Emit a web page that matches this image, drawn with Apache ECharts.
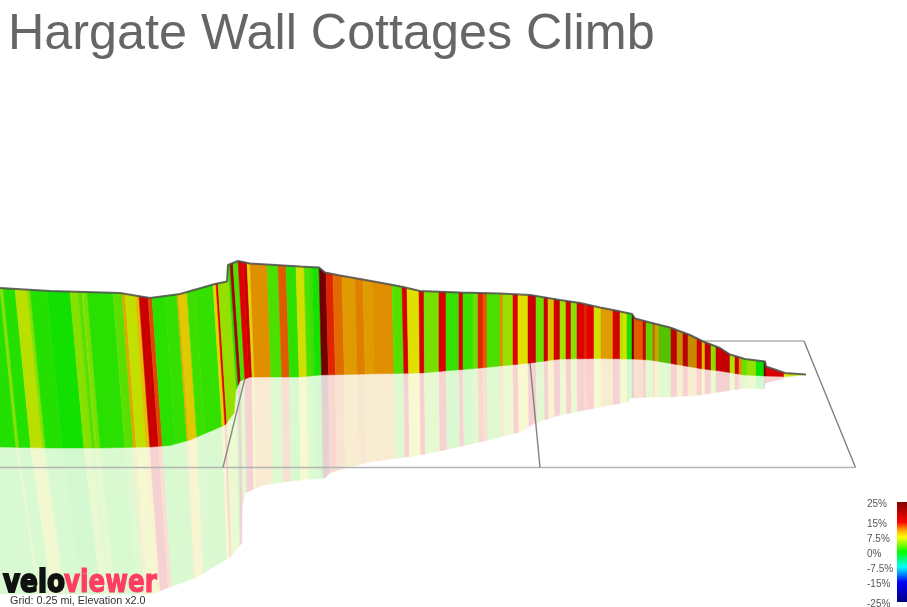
<!DOCTYPE html>
<html>
<head>
<meta charset="utf-8">
<title>Hargate Wall Cottages Climb</title>
<style>
html, body { margin: 0; padding: 0; background: #fff; }
#chart { width: 907px; height: 607px; }
</style>
<script src="https://cdn.jsdelivr.net/npm/echarts@6/dist/echarts.min.js"></script>
</head>
<body>
<div id="chart"></div>
<script>
const chartTitle = 'Hargate Wall Cottages Climb';
const gridNote = 'Grid: 0.25 mi, Elevation x2.0';

// Gradient bands along the ridge: band i runs from bandEdges[i] to bandEdges[i + 1].
const bandEdges = [
  -45, 0, 3, 15, 27, 30, 47, 70, 78, 82, 83, 87, 113, 122, 125, 135, 139, 148, 152, 165, 177,
  179, 187, 195, 213, 216, 218, 228, 230, 233, 238, 243, 247, 250, 267, 278, 286, 296, 304, 308, 312,
  319, 326, 333, 342, 355, 363, 372, 392, 402, 407, 419, 424, 439, 446, 459, 463, 473, 478, 483, 487,
  500, 503, 513, 518, 528, 536, 544, 548, 554, 560, 566, 571, 577, 584, 587, 594, 601, 613, 620, 623,
  627, 632, 634, 643, 646, 653, 655, 659, 671, 677, 683, 688, 697, 702, 705, 711, 716, 726, 730, 735,
  739, 742, 747, 756, 764, 766, 784, 789, 806
];
const bandGrades = [
  1.2, 4.5, 1.2, 6.2, 4.5, 1.2, 0.6, 4.5, 3, 4.5, 4, 1.4, 3, 10, 6.5, 9, 17, 13, 1.4, 1.7, 9.5,
  8.5, 2, 1.7, 8, 15, 5, 1, 20, 2.5, 15, 17, 8, 11, 2.5, 12.5, 1.5, 7, 2.5, 2, 0.8,
  25, 14, 12, 10.5, 11.5, 10.5, 11, 2.8, 16, 7.5, 16, 4, 15.5, 1.8, 15, 1.8, 3.5, 14, 12.5, 2.5,
  11, 5, 15, 7.5, 17, 3.5, 17, 9, 17, 5.5, 16, 4.5, 15.5, 14, 15, 7, 10.5, 16, 6, 7.2,
  1, 25, 12.5, 16, 3.5, 12, 9, 3.3, 15.5, 10, 16, 10.5, 15, 8.5, 17, 5, 17, 18, 6, 17,
  11, 3.5, 5, 0.3, 25, 15.5, 7.5, 6
];

// Top edge of the elevation wall.
const ridgeX = [0, 50, 120, 150, 180, 215, 227, 228, 238, 250, 300, 319, 325, 340, 360, 390, 403, 420, 460, 500, 530, 560, 580, 600, 613, 632, 635, 650, 670, 690, 703, 720, 730, 745, 765, 766, 785, 806];
const ridgeY = [288, 291, 293, 298, 294, 284, 281.5, 265, 261, 263.5, 266.5, 267.5, 272.5, 275.5, 279, 284.5, 287, 291, 292.5, 293.5, 295, 300, 303, 307.5, 310, 314, 318.5, 322.5, 327.5, 335, 341.5, 348, 354.5, 359, 361.5, 366.5, 373, 374.5];

// Where the wall meets the ground.
const baseX = [0, 50, 100, 150, 170, 190, 225, 234, 236, 240, 250, 300, 320, 390, 420, 480, 520, 530, 560, 600, 632, 650, 680, 700, 720, 745, 765, 785, 806];
const baseY = [447, 448, 448, 447, 445.5, 440, 425, 413, 390, 381, 377, 377, 375, 373.5, 373, 368, 364, 363, 359, 358.5, 359, 360, 365, 368.5, 371, 375, 376, 376.5, 374.5];

// Lower edge of the mirrored wall.
const mirrorX = [0, 152, 170, 197, 230, 241.8, 242, 245, 263, 300, 325, 330, 345, 370, 420, 440, 480, 520, 535, 560, 580, 600, 628, 630, 650, 670, 700, 720, 745, 764, 765, 785, 806];
const mirrorY = [594, 594, 587, 577, 557, 543, 507, 493, 485, 480, 478, 473, 468, 462, 455, 451, 442, 432, 423, 415, 411, 407, 402, 398, 397, 397, 395, 392, 388, 389, 383, 378, 374.5];

// Sideways drift of the bands, in perspective, from ridge to ground and to the mirrored edge.
const driftAt = [-45, 0, 50, 130, 180, 215, 232, 250, 320, 400, 430, 530, 620, 806];
const baseDrift = [17, 16, 15, 11, 10, 9, 8, 4.5, 2.5, 2, 0, 0, 0, 0];
const mirrorDrift = [42, 38, 34, 22, 17, 14, 10, 6, 4, 3, 1, 1, 0, 0];

// Light falling on the side face along the climb.
const shadeAt = [0, 640, 660, 690, 705, 740, 806];
const shadeLevel = [0.88, 0.88, 0.76, 0.76, 0.85, 0.88, 0.88];

// Ground grid lines, as [x, y] ends.
const groundFront = [[0, 467.5], [855.5, 467.5]];
const groundRear = [[690, 341], [804, 341]];
const groundSide = [[804, 341], [855.5, 467.5]];
const gridLineA = [[223, 467.5], [245, 378]];
const gridLineB = [[530, 363], [540, 467.5]];

// Colour scale.
const scaleGrades = [25, 15, 11, 7.5, 0, -7.5, -15, -25];
const scaleColours = [[128, 0, 0], [255, 0, 0], [255, 163, 0], [255, 255, 0], [0, 255, 0], [0, 255, 255], [0, 0, 255], [0, 0, 128]];
const legendTicks = ['25%', '15%', '7.5%', '0%', '-7.5%', '-15%', '-25%'];
const legendTickGrades = [25, 15, 7.5, 0, -7.5, -15, -25];

function lerpKnots(xs, ys, x) {
  if (x <= xs[0]) return ys[0];
  for (let i = 1; i < xs.length; i++) {
    if (x <= xs[i]) return ys[i - 1] + (ys[i] - ys[i - 1]) * (x - xs[i - 1]) / (xs[i] - xs[i - 1]);
  }
  return ys[ys.length - 1];
}

function gradeRgb(g) {
  const c = Math.max(-25, Math.min(25, g));
  for (let i = 1; i < scaleGrades.length; i++) {
    if (c >= scaleGrades[i]) {
      const t = (c - scaleGrades[i - 1]) / (scaleGrades[i] - scaleGrades[i - 1]);
      return scaleColours[i - 1].map((v, k) => v + (scaleColours[i][k] - v) * t);
    }
  }
  return scaleColours[scaleColours.length - 1];
}

// Lit wall colour: the scale colour with the shading of the side face.
function wallColour(g, x) {
  const shade = lerpKnots(shadeAt, shadeLevel, x);
  return 'rgb(' + gradeRgb(g).map(v => Math.round(v * shade)).join(',') + ')';
}

// Pale mirrored colour: the scale colour washed out towards white.
function mirrorColour(g) {
  return 'rgb(' + gradeRgb(g).map(v => Math.round(255 + (v * 0.88 - 255) * 0.18)).join(',') + ')';
}

// Points of a profile between x0 and x1, including its own knots in that span.
function spanPoints(xs, ys, x0, x1) {
  const pts = [[x0, lerpKnots(xs, ys, x0)]];
  xs.forEach((x, i) => { if (x > x0 && x < x1) pts.push([x, ys[i]]); });
  pts.push([x1, lerpKnots(xs, ys, x1)]);
  return pts;
}

const bandData = bandGrades.map((g, i) => [bandEdges[i], bandEdges[i + 1], g]);

function wallBand(params, api) {
  const a = api.value(0), b = api.value(1), g = api.value(2);
  const top = spanPoints(ridgeX, ridgeY, a, b);
  const foot = spanPoints(baseX, baseY,
    a + lerpKnots(driftAt, baseDrift, a), b + lerpKnots(driftAt, baseDrift, b));
  const pts = top.concat(foot.reverse()).map(p => api.coord(p));
  const fill = wallColour(g, (a + b) / 2);
  return { type: 'polygon', shape: { points: pts }, style: { fill: fill, stroke: fill, lineWidth: 0.5 } };
}

function mirrorBand(params, api) {
  const a = api.value(0), b = api.value(1), g = api.value(2);
  const foot = spanPoints(baseX, baseY,
    a + lerpKnots(driftAt, baseDrift, a), b + lerpKnots(driftAt, baseDrift, b));
  const low = spanPoints(mirrorX, mirrorY,
    a + lerpKnots(driftAt, mirrorDrift, a), b + lerpKnots(driftAt, mirrorDrift, b));
  const pts = foot.concat(low.reverse()).map(p => api.coord(p));
  const fill = mirrorColour(g);
  return { type: 'polygon', shape: { points: pts }, style: { fill: fill, stroke: fill, lineWidth: 0.5 } };
}

function groundLine(points, colour, z) {
  return {
    type: 'line', data: points, showSymbol: false, silent: true, z: z,
    lineStyle: { color: colour, width: 1.4 }, clip: false
  };
}

const legendBarTop = 502, legendBarBottom = 602;
const legendStops = scaleGrades.map((g, i) => ({
  offset: (25 - g) / 50,
  color: 'rgb(' + scaleColours[i].join(',') + ')'
}));

const legendGraphics = legendTicks.map((t, i) => ({
  type: 'text',
  left: 867,
  top: 553 - 2 * legendTickGrades[i] - 4,
  z: 20,
  style: { text: t, fill: '#555', font: '10px "Liberation Sans", Arial, sans-serif' }
}));

const chart = echarts.init(document.getElementById('chart'), null, { renderer: 'canvas' });
chart.setOption({
  animation: false,
  backgroundColor: '#fff',
  title: {
    text: chartTitle, left: 3, top: 5,
    textStyle: { color: '#666', fontSize: 50.3, fontWeight: 'normal', fontFamily: '"Liberation Sans", Arial, sans-serif' }
  },
  grid: { left: 0, right: 0, top: 0, bottom: 0 },
  xAxis: { type: 'value', min: 0, max: 907, show: false },
  yAxis: { type: 'value', min: 0, max: 607, inverse: true, show: false },
  series: [
    { type: 'custom', renderItem: mirrorBand, data: bandData, silent: true, z: 2, clip: true },
    groundLine(groundFront, '#b4b4b4', 3),
    groundLine(groundRear, '#b0b0b0', 1),
    groundLine(groundSide, '#808080', 1),
    groundLine(gridLineA, '#8a8a8a', 3),
    groundLine(gridLineB, '#808080', 3),
    { type: 'custom', renderItem: wallBand, data: bandData, silent: true, z: 4, clip: true },
    {
      type: 'line', data: ridgeX.map((x, i) => [x, ridgeY[i]]), showSymbol: false, silent: true, z: 5,
      lineStyle: { color: '#505050', width: 2, opacity: 0.85 }
    }
  ],
  graphic: legendGraphics.concat([
    {
      type: 'rect', left: 897, top: legendBarTop, z: 20,
      shape: { width: 10, height: legendBarBottom - legendBarTop },
      style: { fill: new echarts.graphic.LinearGradient(0, 0, 0, 1, legendStops) }
    },
    {
      type: 'text', x: 3, y: 568, scaleX: 0.82, z: 20,
      style: { text: 'velo', fill: '#111', stroke: '#111', lineWidth: 2, font: 'bold 32px "DejaVu Sans", sans-serif' }
    },
    {
      type: 'text', x: 64, y: 568, scaleX: 0.77, z: 20,
      style: { text: 'viewer', fill: '#ff3c64', stroke: '#ff3c64', lineWidth: 1.2, font: 'bold 32px "DejaVu Sans", sans-serif' }
    },
    {
      type: 'text', x: 10, y: 596, z: 20,
      style: { text: gridNote, fill: '#333', font: '10.8px "Liberation Sans", Arial, sans-serif' }
    }
  ])
});
</script>
</body>
</html>
